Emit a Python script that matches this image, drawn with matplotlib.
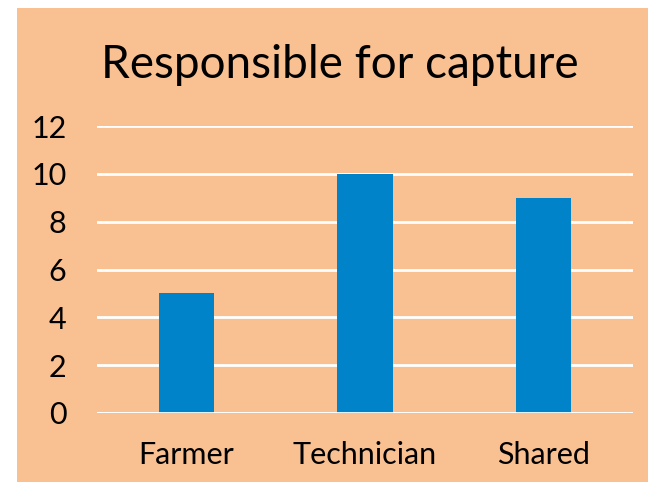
import matplotlib
matplotlib.use("Agg")
import matplotlib.pyplot as plt

categories = ["Farmer", "Technician", "Shared"]
values = [5, 10, 9]
yticks = [0, 2, 4, 6, 8, 10, 12]

W, H, DPI = 648, 482, 100
fig = plt.figure(figsize=(W / DPI, H / DPI), dpi=DPI, facecolor="white")
plt.rcParams["font.family"] = ["Lato", "DejaVu Sans"]

# peach chart area
bg = fig.add_axes([17 / W, 0, 1 - 17 / W, 1 - 8 / H])
bg.set_facecolor("#F9C191")
bg.set_xticks([]); bg.set_yticks([])
for s in bg.spines.values():
    s.set_visible(False)

ax = fig.add_axes([97 / W, (H - 413) / H, (633 - 97) / W, (413 - 126) / H])
ax.set_facecolor("none")
x = range(len(categories))
ax.bar(x, values, width=0.31, color="#0083C9", zorder=3)
ax.set_xlim(-0.5, len(categories) - 0.5)
ax.set_ylim(0, 12)
ax.set_yticks(yticks)
ax.set_xticks(list(x))
ax.set_xticklabels(categories)
ax.grid(axis="y", color="white", linewidth=2, zorder=0)
for s in ax.spines.values():
    s.set_visible(False)
ax.tick_params(length=0, labelsize=22, colors="black")
ax.tick_params(axis="y", pad=22)
ax.tick_params(axis="x", pad=20)
ax.axhline(0, color="white", linewidth=2, zorder=4)

fig.text(340 / W, 1 - 65 / H, "Responsible for capture", ha="center", va="center", fontsize=33)

fig.savefig("out.png", dpi=DPI)
